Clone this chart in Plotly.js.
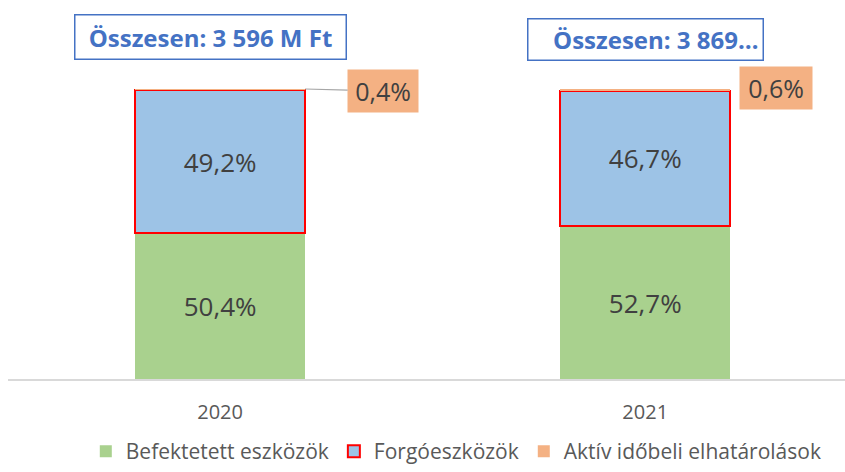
<!DOCTYPE html>
<html>
<head>
<meta charset="utf-8">
<script src="https://cdn.plot.ly/plotly-3.0.1.min.js"></script>
<style>html,body{margin:0;padding:0;background:#fff;}#chart{width:845px;height:472px;}</style>
</head>
<body>
<div id="chart"></div>
<script>
const years = ["2020", "2021"];
const seriesNames = ["Befektetett eszközök", "Forgóeszközök", "Aktív időbeli elhatárolások"];
const befektetett = [50.4, 52.7];
const forgo = [49.2, 46.7];
const aktiv = [0.4, 0.6];
const totalLabels = ["Összesen: 3 596 M Ft", "Összesen: 3 869…"];

const colors = ["#A9D18E", "#9DC3E6", "#F4B183"];
const fontFam = "Open Sans, sans-serif";

const labelFont = {family: fontFam, size: 26, color: "#404040"};

const traces = [
  {
    type: "bar", name: seriesNames[0], x: years, y: befektetett,
    marker: {color: colors[0]},
    texttemplate: "%{y:.1f}%", textposition: "inside", insidetextanchor: "middle",
    textangle: 0, textfont: labelFont, hoverinfo: "skip"
  },
  {
    type: "bar", name: seriesNames[1], x: years, y: forgo,
    marker: {color: colors[1], line: {color: "#FF0000", width: 2}},
    texttemplate: "%{y:.1f}%", textposition: "inside", insidetextanchor: "middle",
    textangle: 0, textfont: labelFont, hoverinfo: "skip"
  },
  {
    type: "bar", name: seriesNames[2], x: years, y: aktiv,
    marker: {color: colors[2]},
    textposition: "none", hoverinfo: "skip"
  }
];

const fmt = v => v.toFixed(1).replace(".", ",") + "%";

const annotations = [];
// Orange value boxes
annotations.push({
  x: 0.2, y: befektetett[0] + forgo[0] + aktiv[0], xref: "x", yref: "y",
  text: fmt(aktiv[0]), showarrow: true, arrowhead: 0, arrowwidth: 1.2, arrowcolor: "#A6A6A6",
  ax: 78, ay: 2, bgcolor: colors[2], borderpad: 4, width: 62, height: 34,
  font: {family: fontFam, size: 25, color: "#404040"}
});
annotations.push({
  x: 1.2, y: befektetett[1] + forgo[1] + aktiv[1], xref: "x", yref: "y",
  text: fmt(aktiv[1]), showarrow: false, xanchor: "center", yanchor: "middle",
  xshift: 46, yshift: 1, bgcolor: colors[2], borderpad: 4, width: 64, height: 34,
  font: {family: fontFam, size: 25, color: "#404040"}
});
// Total boxes
annotations.push({
  x: 0, y: 1.179, xref: "x", yref: "paper", xshift: -10,
  text: "<b>" + totalLabels[0] + "</b>", showarrow: false,
  xanchor: "center", yanchor: "middle",
  bgcolor: "#FFFFFF", bordercolor: "#4472C4", borderwidth: 1.5, borderpad: 5,
  width: 260, height: 33,
  font: {family: fontFam, size: 24, color: "#4472C4"}
});
annotations.push({
  x: 1, y: 1.169, xref: "x", yref: "paper", xshift: 0,
  text: "<b>" + totalLabels[1] + "</b>", showarrow: false,
  xanchor: "center", yanchor: "middle", align: "right",
  bgcolor: "#FFFFFF", bordercolor: "#4472C4", borderwidth: 1.5, borderpad: 4,
  width: 226, height: 32,
  font: {family: fontFam, size: 24, color: "#4472C4"}
});

const layout = {
  width: 845, height: 472,
  margin: {l: 8, r: 0, t: 89, b: 93},
  paper_bgcolor: "#FFFFFF", plot_bgcolor: "#FFFFFF",
  barmode: "stack", bargap: 0.6,
  separators: ", ",
  font: {family: fontFam, color: "#595959"},
  xaxis: {
    type: "category", range: [-0.499, 1.47],
    showline: true, linecolor: "#D9D9D9", linewidth: 1.5,
    showgrid: false, zeroline: false, ticks: "",
    tickfont: {family: fontFam, size: 20, color: "#595959"},
    ticklabelstandoff: 14
  },
  yaxis: {visible: false, range: [0, 100], fixedrange: true},
  showlegend: true,
  legend: {
    orientation: "h", xref: "container", yref: "container",
    x: 0.54, xanchor: "center", y: -0.012, yanchor: "bottom",
    font: {family: fontFam, size: 21, color: "#595959"},
    traceorder: "normal", itemclick: false
  },
  annotations: annotations
};

Plotly.newPlot("chart", traces, layout, {displayModeBar: false, staticPlot: true});
</script>
</body>
</html>
